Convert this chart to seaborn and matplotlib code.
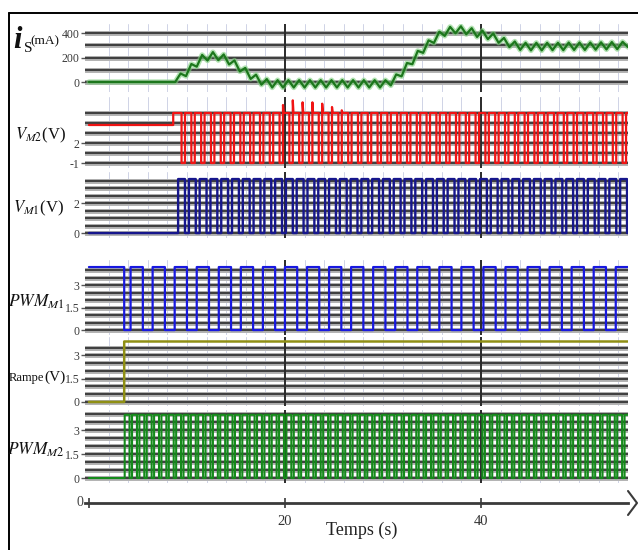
import numpy as np
import pandas as pd
import matplotlib
matplotlib.use("Agg")
import matplotlib.pyplot as plt
import seaborn as sns
from matplotlib.lines import Line2D

# ---------------- data ----------------
t_end = 55.0

# stator current i_S (mA): corner points of the rippled trace
is_time = [0, 8.8, 9.35, 9.9, 10.45, 11.0, 11.55, 12.1, 12.65, 13.2, 13.75, 14.3,
           14.85, 15.4, 15.95, 16.5, 17.05, 17.6, 18.15, 18.7, 19.25, 19.8, 20.35,
           20.9, 21.45, 22.0, 22.55, 23.1, 23.65, 24.2, 24.75, 25.3, 25.85, 26.4,
           26.95, 27.5, 28.05, 28.6, 29.15, 29.7, 30.25, 30.8, 31.35, 31.9, 32.45,
           33.0, 33.55, 34.1, 34.65, 35.2, 35.75, 36.3, 36.85, 37.4, 37.95, 38.5,
           39.05, 39.6, 40.15, 40.7, 41.25, 41.8, 42.35, 42.9, 43.45, 44.0, 44.55,
           45.1, 45.65, 46.2, 46.75, 47.3, 47.85, 48.4, 48.95, 49.5, 50.05, 50.6,
           51.15, 51.7, 52.25, 52.8, 53.35, 53.9, 54.45, 55.0]
is_ma = [0, 0, 69, 48, 147, 125, 221, 175, 244, 178, 225, 143,
         176, 86, 115, 25, 60, -22, 24, -45, 15, -45, 15,
         -45, 15, -45, 15, -45, 15, -45, 15, -45, 15, -45,
         15, -45, 15, -45, 15, -45, 15, -28, 62, 46, 155,
         145, 254, 238, 340, 319, 411, 376, 450, 398, 455, 390,
         439, 368, 420, 350, 396, 320, 360, 285, 331, 262, 320,
         258, 320, 258, 320, 260, 320, 260, 322, 262, 322, 262,
         322, 264, 324, 266, 326, 268, 328, 285]

# V_M2 (V): level before switching, plateau, dips and overshoots
vm2_pre, vm2_start, vm2_high, vm2_low, vm2_dip = 4.7, 8.6, 6.5, -1.0, 0.35
vm2_falls = [9.45, 10.45, 11.45, 12.45, 13.45, 14.45, 15.45, 16.45, 17.45, 18.45,
             19.45, 20.45, 21.45, 22.45, 23.45, 24.45, 25.45, 26.45, 27.45, 28.45,
             29.45, 30.45, 31.45, 32.45, 33.45, 34.45, 35.45, 36.45, 37.45, 38.45,
             39.45, 40.45, 41.45, 42.45, 43.45, 44.45, 45.45, 46.45, 47.45, 48.45,
             49.45, 50.45, 51.45, 52.45, 53.45, 54.45]
vm2_spike_times = [19.8, 20.8, 21.8, 22.8, 23.8, 24.8, 25.8]
vm2_spike_vals = [7.7, 8.4, 8.1, 8.1, 7.9, 7.4, 6.9]

# V_M1 (V)
vm1_high, vm1_width = 3.6, 0.7
vm1_rises = [9.1, 10.2, 11.3, 12.4, 13.5, 14.6, 15.7, 16.8, 17.9, 19.0, 20.1, 21.2,
             22.3, 23.4, 24.5, 25.6, 26.7, 27.8, 28.9, 30.0, 31.1, 32.2, 33.3, 34.4,
             35.5, 36.6, 37.7, 38.8, 39.9, 41.0, 42.1, 43.2, 44.3, 45.4, 46.5, 47.6,
             48.7, 49.8, 50.9, 52.0, 53.1, 54.2]

# PWM_M1
pwm1_high, pwm1_pre_end, pwm1_width = 4.2, 3.6, 1.25
pwm1_rises = [4.25, 6.5, 8.75, 11.0, 13.25, 15.5, 17.75, 20.0, 22.25, 24.5, 26.75,
              29.0, 31.25, 33.5, 35.75, 38.0, 40.25, 42.5, 44.75, 47.0, 49.25,
              51.5, 53.75]

# Rampe (V)
ramp_time = [0, 3.6, 3.6, 55.0]
ramp_v = [0, 0, 3.9, 3.9]

# PWM_M2
pwm2_high, pwm2_width = 3.95, 0.5
pwm2_rises = [3.65, 4.4, 5.15, 5.9, 6.65, 7.4, 8.15, 8.9, 9.65, 10.4, 11.15, 11.9,
              12.65, 13.4, 14.15, 14.9, 15.65, 16.4, 17.15, 17.9, 18.65, 19.4,
              20.15, 20.9, 21.65, 22.4, 23.15, 23.9, 24.65, 25.4, 26.15, 26.9,
              27.65, 28.4, 29.15, 29.9, 30.65, 31.4, 32.15, 32.9, 33.65, 34.4,
              35.15, 35.9, 36.65, 37.4, 38.15, 38.9, 39.65, 40.4, 41.15, 41.9,
              42.65, 43.4, 44.15, 44.9, 45.65, 46.4, 47.15, 47.9, 48.65, 49.4,
              50.15, 50.9, 51.65, 52.4, 53.15, 53.9, 54.65]

x_ticks = [20, 40]

# ---------------- helpers ----------------
def pulse_train(pre_level, pre_end, rises, width, high, low):
    t, y = [0.0, pre_end], [pre_level, pre_level]
    if pre_level != low:
        t.append(pre_end); y.append(low)
    for r in rises:
        f = min(r + width, t_end)
        t += [r, r, f]; y += [low, high, high]
        if f < t_end:
            t.append(f); y.append(low)
    if t[-1] < t_end:
        t.append(t_end); y.append(y[-1])
    return t, y

def dip_train():
    t = [0.0, vm2_start, vm2_start]
    y = [vm2_pre, vm2_pre, vm2_high]
    for f in vm2_falls:
        r = f + vm2_dip
        t += [f, f, r, r]
        sp = None
        for st, sv in zip(vm2_spike_times, vm2_spike_vals):
            if abs(st - r) < 0.05:
                sp = sv
        y += [vm2_high, vm2_low, vm2_low, sp if sp is not None else vm2_high]
        if sp is not None:
            t.append(r + 0.07); y.append(vm2_high)
    t.append(t_end); y.append(vm2_high)
    return t, y

# ---------------- figure ----------------
sns.set_theme(style="white")
plt.rcParams["font.family"] = ["Liberation Serif", "DejaVu Serif"]
plt.rcParams["mathtext.fontset"] = "stix"

W, H = 638, 550
fig = plt.figure(figsize=(W / 100, H / 100), dpi=100)
fig.patch.set_facecolor("white")

X0, X1 = 85, 628
XLIM = (-0.4, 55.0)

def add_panel(top_px, bot_px, ylim, grid, ticks, labels):
    ax = fig.add_axes([X0 / W, 1 - bot_px / H, (X1 - X0) / W, (bot_px - top_px) / H])
    ax.set_facecolor("none")
    ax.set_xlim(*XLIM)
    ax.set_ylim(*ylim)
    for s in ax.spines.values():
        s.set_visible(False)
    for t in np.arange(2, 55, 2):
        if t not in x_ticks:
            ax.axvline(t, color="#cfd3e6", lw=0.7, zorder=0.5)
    for v in grid:
        ax.axhline(v, color="#b4b4b4", lw=3.6, zorder=1)
        ax.axhline(v, color="#404040", lw=1.5, zorder=1.1)
    for t in x_ticks:
        ax.axvline(t, color="#2a2a2a", lw=1.4, zorder=1.2)
    ax.set_xticks([])
    ax.set_yticks(ticks, labels=labels)
    ax.tick_params(axis="y", left=True, length=3, width=1, color="#555555",
                   pad=1, labelsize=8.5, labelcolor="#3a3a3a")
    ax.grid(False)
    return ax

def draw(ax, t, y, color, lw=1.6, halo=None):
    df = pd.DataFrame({"t": t, "v": y})
    if halo:
        sns.lineplot(data=df, x="t", y="v", ax=ax, color=halo, lw=lw + 2.2,
                     estimator=None, sort=False, legend=False, zorder=2, alpha=0.6)
    sns.lineplot(data=df, x="t", y="v", ax=ax, color=color, lw=lw, snap=False,
                 estimator=None, sort=False, legend=False, zorder=3)
    ax.set_xlabel(""); ax.set_ylabel("")

# panel 1: i_S
ax1 = add_panel(24, 92, (-81.6, 473.5), [0, 100, 200, 300, 400], [0, 200, 400], ["0", "200", "400"])
draw(ax1, is_time, is_ma, "#1c771c", lw=1.6, halo="#7fcf7f")

# panel 2: V_M2
ax2 = add_panel(97, 168, (-1.75, 8.9), [-1, 0.5, 2, 3.5, 5, 6.5], [-1, 2], ["-1", "2"])
t, y = dip_train()
draw(ax2, t, y, "#f01414", lw=1.6)

# panel 3: V_M1
ax3 = add_panel(172, 238, (-0.33, 4.07), np.arange(0, 3.51, 0.5), [0, 2], ["0", "2"])
t, y = pulse_train(0, vm1_rises[0], vm1_rises, vm1_width, vm1_high, 0)
draw(ax3, t, y, "#16168c", lw=1.7)

# panel 4: PWM_M1
ax4 = add_panel(260, 335, (-0.33, 4.67), np.arange(0, 4.01, 0.5), [0, 1.5, 3], ["0", "1.5", "3"])
t, y = pulse_train(pwm1_high, pwm1_pre_end, pwm1_rises, pwm1_width, pwm1_high, 0)
draw(ax4, t, y, "#1818e0", lw=1.6)

# panel 5: Rampe
ax5 = add_panel(337, 406, (-0.26, 4.19), np.arange(0, 3.51, 0.5), [0, 1.5, 3], ["0", "1.5", "3"])
draw(ax5, ramp_time, ramp_v, "#8f8f14", lw=1.8)

# panel 6: PWM_M2
ax6 = add_panel(410, 483, (-0.31, 4.25), np.arange(0, 4.01, 0.5), [0, 1.5, 3], ["0", "1.5", "3"])
t, y = pulse_train(0, pwm2_rises[0], pwm2_rises, pwm2_width, pwm2_high, 0)
draw(ax6, t, y, "#148a1a", lw=1.5)

# bottom time axis
axb = fig.add_axes([X0 / W, 1 - 503 / H, (X1 - X0) / W, 8 / H])
axb.set_facecolor("none")
axb.set_xlim(*XLIM)
for k, s in axb.spines.items():
    s.set_visible(k == "bottom")
axb.spines["bottom"].set_color("#3a3a3a")
axb.spines["bottom"].set_linewidth(2)
axb.set_yticks([])
axb.set_xticks([0] + x_ticks, labels=[""] + [str(v) for v in x_ticks])
axb.tick_params(axis="x", bottom=True, direction="inout", length=7, width=1.2,
                color="#3a3a3a", pad=5, labelsize=10.5, labelcolor="#333333")
axb.grid(False)

def px(x, y):
    return x / W, 1 - y / H

fig.text(*px(80, 503), "0", ha="center", va="center", fontsize=10, color="#444444")
fig.add_artist(Line2D([628 / W, 637 / W, 628 / W], [1 - 491 / H, 1 - 503 / H, 1 - 515 / H],
                      color="#3a3a3a", lw=1.5))
fig.text(*px(362, 530), "Temps (s)", ha="center", va="center", fontsize=13, color="#222222")

# y labels
fig.text(*px(17, 40), "i", ha="center", va="center", fontsize=22, fontstyle="italic",
         fontweight="bold", color="#111111")
fig.text(*px(28, 48), "S", ha="center", va="center", fontsize=11, color="#111111")
fig.text(*px(45, 41), "(mA)", ha="center", va="center", fontsize=9.5, color="#111111")
fig.text(*px(40, 135), r"$V_{M2}$(V)", ha="center", va="center", fontsize=12, color="#111111")
fig.text(*px(38, 208), r"$V_{M1}$(V)", ha="center", va="center", fontsize=12, color="#111111")
fig.text(*px(36, 302), r"$PWM_{M1}$", ha="center", va="center", fontsize=12.5, color="#111111")
fig.text(*px(44, 378), "Rampe", ha="right", va="center", fontsize=9, color="#111111")
fig.text(*px(44, 377), "(V)", ha="left", va="center", fontsize=11, color="#111111")
fig.text(*px(36, 450), r"$PWM_{M2}$", ha="center", va="center", fontsize=12.5, color="#111111")

# outer frame
fig.add_artist(Line2D([8.5 / W, 8.5 / W], [0, 1 - 12.5 / H], color="black", lw=1.4))
fig.add_artist(Line2D([8.5 / W, 1], [1 - 12.5 / H, 1 - 12.5 / H], color="black", lw=1.4))

fig.savefig("out.png", dpi=100)
